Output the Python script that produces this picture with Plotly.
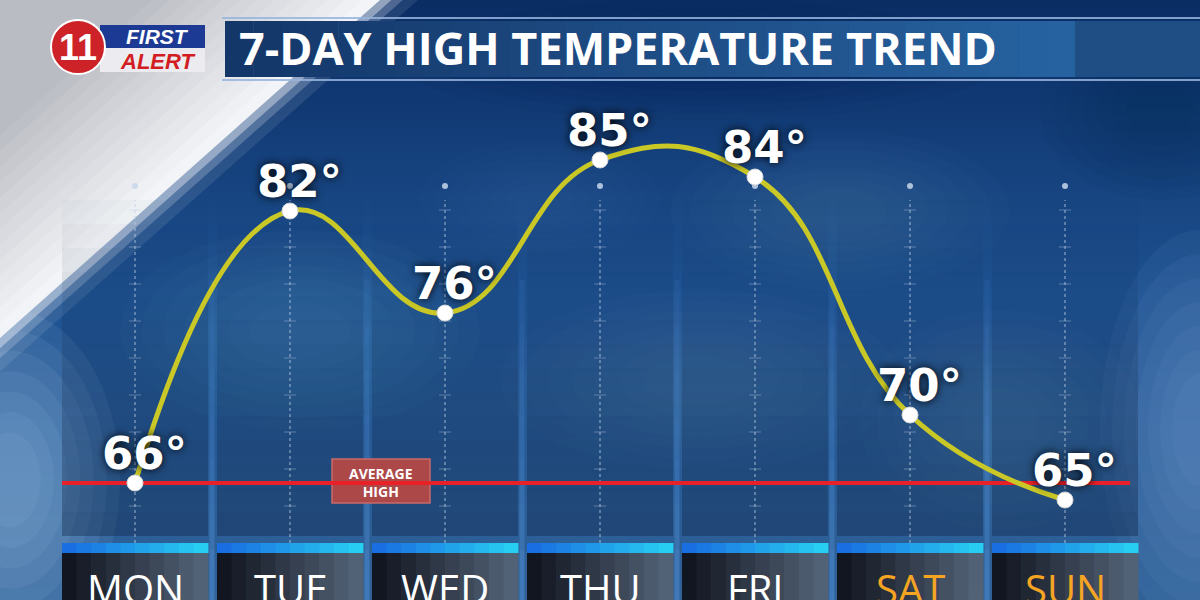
import plotly.graph_objects as go

days = ["MON", "TUE", "WED", "THU", "FRI", "SAT", "SUN"]
highs = [66, 82, 76, 85, 84, 70, 65]
avg_high = 66
weekend_days = ["SAT", "SUN"]
title_text = "7-DAY HIGH TEMPERATURE TREND"

W, H = 1200, 600
# pixel scale of the graphic: day columns 155 px apart, 17 px per degree
COL0, COL_W = 135, 155
DEG_PX, Y_REF_PX, Y_REF_VAL = 17, 483, 66


def px(x):
    return x / W


def py(y):
    return 1 - y / H


def mix(c0, c1, t, a=None):
    r, g, b = (round(p + (q - p) * t) for p, q in zip(c0, c1))
    if a is None:
        return f"rgb({r},{g},{b})"
    return f"rgba({r},{g},{b},{a})"


shapes = []


def rect(x0, y0, x1, y1, color, layer="below"):
    shapes.append(dict(type="rect", xref="paper", yref="paper",
                       x0=px(x0), x1=px(x1), y0=py(y1), y1=py(y0),
                       fillcolor=color, line=dict(width=0), layer=layer))


def soft_blob(cx, cy, rx, ry, rgb, alpha, n=7):
    # stacked ellipses fake a blurred cloud
    for k in range(n):
        s = 1 - k * 0.12
        shapes.append(dict(type="circle", xref="paper", yref="paper",
                           x0=px(cx - rx * s), x1=px(cx + rx * s),
                           y0=py(cy + ry * s), y1=py(cy - ry * s),
                           fillcolor=f"rgba({rgb[0]},{rgb[1]},{rgb[2]},{alpha / n:.3f})",
                           line=dict(width=0), layer="below"))


def tri(a, b, color):
    shapes.append(dict(type="path", xref="paper", yref="paper",
                       path=f"M {px(0)},{py(0)} L {px(a)},{py(0)} L {px(0)},{py(b)} Z",
                       fillcolor=color, line=dict(width=0), layer="below"))


# sky background
for k in range(100):
    y0 = k * 6
    t = k / 99
    if t < 0.5:
        c = mix((10, 45, 100), (30, 82, 145), t / 0.5)
    else:
        c = mix((30, 82, 145), (48, 98, 152), (t - 0.5) / 0.5)
    rect(0, y0, W, y0 + 6.5, c)

# clouds
soft_blob(300, 330, 180, 100, (140, 180, 225), 0.22)
soft_blob(700, 380, 200, 90, (140, 180, 225), 0.20)
soft_blob(840, 210, 170, 80, (140, 180, 225), 0.16)
soft_blob(1000, 420, 140, 110, (150, 190, 230), 0.20)
soft_blob(540, 200, 120, 60, (120, 165, 215), 0.14)
soft_blob(10, 480, 110, 170, (150, 185, 222), 0.75)
soft_blob(1200, 430, 100, 200, (130, 172, 215), 0.55)
soft_blob(1160, 110, 120, 90, (5, 30, 75), 0.35)
soft_blob(700, 60, 300, 60, (5, 30, 75), 0.30)

# white diagonal panel top-left
A, B = 380, 338
tri(A * 1.10, B * 1.10, "rgba(200,212,230,0.12)")
tri(A * 1.06, B * 1.06, "rgba(215,225,238,0.25)")
tri(A * 1.03, B * 1.03, "rgba(230,236,244,0.45)")
steps = 14
for k in range(steps):
    s = 1.0 - 0.6 * k / (steps - 1)
    tri(A * s, B * s, mix((242, 244, 247), (186, 188, 195), k / (steps - 1)))

# day columns, darker toward the bottom
for i in range(len(days)):
    x0 = 62 + COL_W * i
    x1 = x0 + 146
    for k in range(14):
        y0 = 200 + k * 24
        y1 = min(y0 + 24, 543)
        rect(x0, y0, x1, y1, f"rgba(12,30,62,{0.02 + 0.025 * k:.3f})")
for k in range(6):
    xc = 212 + COL_W * k
    for j in range(6):
        ya = 280 + j * 45
        shapes.append(dict(type="line", xref="paper", yref="paper",
                           x0=px(xc), x1=px(xc), y0=py(ya + 45), y1=py(ya),
                           line=dict(color=f"rgba(75,135,205,{0.12 + 0.07 * j:.2f})", width=5),
                           layer="below"))
    shapes.append(dict(type="line", xref="paper", yref="paper",
                       x0=px(xc), x1=px(xc), y0=py(600), y1=py(550),
                       line=dict(color="rgba(75,135,205,0.6)", width=5), layer="below"))

# dotted guides
for i in range(len(days)):
    xc = COL0 + COL_W * i
    shapes.append(dict(type="circle", xref="paper", yref="paper",
                       x0=px(xc - 3), x1=px(xc + 3), y0=py(189), y1=py(183),
                       fillcolor="rgba(200,215,235,0.85)", line=dict(width=0), layer="below"))
    shapes.append(dict(type="line", xref="paper", yref="paper",
                       x0=px(xc), x1=px(xc), y0=py(543), y1=py(200),
                       line=dict(color="rgba(190,205,230,0.55)", width=1.5, dash="dot"),
                       layer="below"))
    for yt in range(210, 543, 37):
        shapes.append(dict(type="line", xref="paper", yref="paper",
                           x0=px(xc - 6), x1=px(xc + 6), y0=py(yt), y1=py(yt),
                           line=dict(color="rgba(190,205,230,0.4)", width=1),
                           layer="below"))

# average high line and tag
x_lo = (62 - COL0) / COL_W
x_hi = (1130 - COL0) / COL_W
shapes.append(dict(type="line", xref="x", yref="y", x0=x_lo, x1=x_hi,
                   y0=avg_high, y1=avg_high,
                   line=dict(color="rgb(232,32,40)", width=4), layer="below"))
shapes.append(dict(type="rect", xref="paper", yref="paper",
                   x0=px(332), x1=px(430), y0=py(503), y1=py(459),
                   fillcolor="rgb(172,72,72)",
                   line=dict(color="rgb(200,105,105)", width=1.5), layer="below"))

# bottom bars and day boxes
for i in range(len(days)):
    x0 = 62 + COL_W * i
    n = 10
    for k in range(n):
        sx0 = x0 + 146 * k / n
        sx1 = x0 + 146 * (k + 1) / n + 0.5
        rect(sx0, 543, sx1, 553, mix((25, 110, 225), (40, 205, 242), k / (n - 1)), "above")
        rect(sx0, 553, sx1, 600, mix((18, 22, 32), (82, 98, 118), k / (n - 1)), "above")

# title bar
for yl in (18, 80):
    shapes.append(dict(type="line", xref="paper", yref="paper", x0=px(222), x1=px(1200),
                       y0=py(yl), y1=py(yl), line=dict(color="rgba(150,180,222,0.85)", width=2),
                       layer="above"))
n = 30
for k in range(n):
    sx0 = 225 + (1075 - 225) * k / n
    sx1 = 225 + (1075 - 225) * (k + 1) / n + 0.5
    rect(sx0, 21, sx1, 77, mix((20, 55, 105), (38, 98, 160), k / (n - 1)), "above")
rect(1075, 21, 1200, 77, "rgb(30,78,132)", "above")

# logo
rect(100, 25, 205, 48, "rgb(28,58,148)", "above")
rect(100, 48, 205, 72, "rgb(236,236,240)", "above")
shapes.append(dict(type="circle", xref="paper", yref="paper",
                   x0=px(51), x1=px(105), y0=py(74), y1=py(20),
                   fillcolor="rgb(205,35,40)", line=dict(color="white", width=2),
                   layer="above"))

fig = go.Figure()
fig.add_trace(go.Scatter(
    x=list(range(len(days))), y=highs, mode="lines+markers",
    line=dict(color="rgb(202,200,38)", width=5, shape="spline", smoothing=1.3),
    marker=dict(size=16, color="white", line=dict(color="rgb(215,215,215)", width=1)),
    hoverinfo="skip", showlegend=False,
))


def label(x, y, text, size, family="Open Sans", weight="bold", color="white", **kw):
    d = dict(x=px(x), y=py(y), xref="paper", yref="paper", text=text, showarrow=False,
             xanchor="center", yanchor="middle",
             font=dict(family=family, size=size, weight=weight, color=color))
    d.update(kw)
    return d


annotations = []
for i, v in enumerate(highs):
    annotations.append(dict(
        x=i, y=v, xref="x", yref="y", text=f"{v}°", showarrow=False,
        xanchor="center", yanchor="middle", xshift=9, yshift=30,
        font=dict(family="DejaVu Sans", size=45, color="white", weight="bold",
                  shadow="0px 0px 8px rgba(0,0,0,1)"),
    ))
for i, d in enumerate(days):
    annotations.append(dict(
        x=i, y=py(588), xref="x", yref="paper", text=d, showarrow=False,
        xanchor="center", yanchor="middle",
        font=dict(family="Open Sans", size=40, weight=500,
                  color="rgb(246,165,35)" if d in weekend_days else "white"),
    ))
annotations.append(label(381, 482, "AVERAGE<br>HIGH", 14))
annotations.append(label(237, 48, title_text, 45, xanchor="left"))
annotations.append(label(78, 48, "11", 36, family="Liberation Sans"))
annotations.append(label(158, 37, "<i>FIRST</i>", 21, family="Liberation Sans"))
annotations.append(label(157, 61, "<i>ALERT</i>", 22, family="Liberation Sans",
                         color="rgb(210,30,35)"))

x_left = -COL0 / COL_W
y_top = Y_REF_VAL + Y_REF_PX / DEG_PX
y_bot = Y_REF_VAL - (H - Y_REF_PX) / DEG_PX

fig.update_layout(
    width=W, height=H,
    margin=dict(l=0, r=0, t=0, b=0),
    paper_bgcolor="rgb(20,60,115)",
    plot_bgcolor="rgba(0,0,0,0)",
    xaxis=dict(range=[x_left, x_left + W / COL_W], visible=False, fixedrange=True),
    yaxis=dict(range=[y_bot, y_top], visible=False, fixedrange=True),
    shapes=shapes,
    annotations=annotations,
    showlegend=False,
)

fig.write_html("out.html", config={"displayModeBar": False},
               post_script="document.body.style.margin='0';")
